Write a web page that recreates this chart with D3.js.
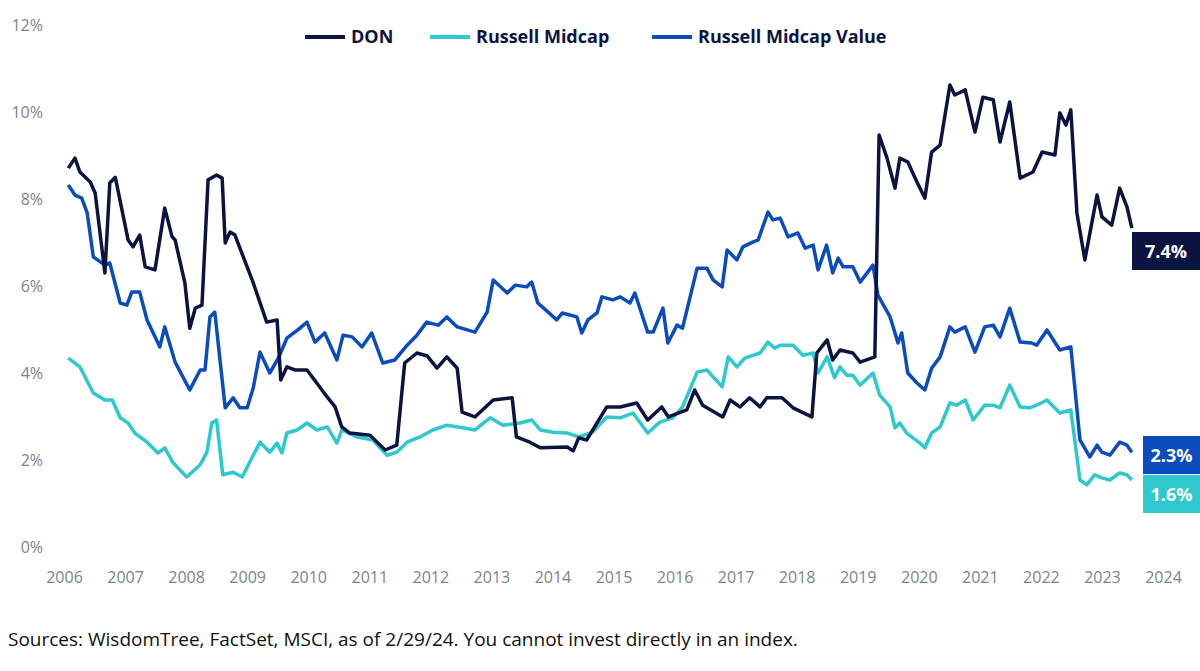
<!DOCTYPE html>
<html><head><meta charset="utf-8">
<script src="https://cdn.jsdelivr.net/npm/d3@7"></script>
<style>body{margin:0;background:#fff}svg{display:block}text{font-family:"Open Sans",sans-serif}</style>
</head><body><div id="chart"></div>
<script>
const years = [2006,2007,2008,2009,2010,2011,2012,2013,2014,2015,2016,2017,2018,2019,2020,2021,2022,2023,2024];
const yTicks = [0,2,4,6,8,10,12];
const seriesNames = ["DON","Russell Midcap","Russell Midcap Value"];
const seriesColors = ["#0b1440","#2ec8cf","#0a4cbd"];
const endLabels = ["7.4%","1.6%","2.3%"];

const don = [[2006.07,8.71],[2006.18,8.94],[2006.26,8.62],[2006.43,8.39],[2006.51,8.14],[2006.67,6.3],[2006.75,8.37],[2006.84,8.5],[2007.05,7.06],[2007.13,6.9],[2007.24,7.17],[2007.33,6.44],[2007.49,6.37],[2007.65,7.79],[2007.77,7.13],[2007.82,7.06],[2007.98,6.07],[2008.06,5.03],[2008.15,5.49],[2008.26,5.56],[2008.36,8.44],[2008.5,8.55],[2008.59,8.48],[2008.64,6.99],[2008.72,7.24],[2008.8,7.17],[2009.1,6.07],[2009.32,5.17],[2009.49,5.22],[2009.55,3.84],[2009.65,4.14],[2009.78,4.07],[2009.98,4.07],[2010.14,3.77],[2010.31,3.45],[2010.44,3.22],[2010.55,2.76],[2010.68,2.62],[2011.01,2.57],[2011.26,2.23],[2011.45,2.34],[2011.58,4.23],[2011.78,4.46],[2011.95,4.39],[2012.11,4.11],[2012.27,4.37],[2012.44,4.11],[2012.52,3.1],[2012.73,2.99],[2013.03,3.38],[2013.34,3.43],[2013.41,2.53],[2013.63,2.41],[2013.8,2.28],[2014.24,2.3],[2014.34,2.21],[2014.43,2.51],[2014.56,2.46],[2014.89,3.22],[2015.11,3.22],[2015.38,3.31],[2015.56,2.92],[2015.79,3.22],[2015.9,2.99],[2016.2,3.15],[2016.33,3.61],[2016.46,3.26],[2016.79,2.99],[2016.91,3.38],[2017.07,3.22],[2017.23,3.43],[2017.4,3.22],[2017.51,3.43],[2017.76,3.43],[2017.94,3.2],[2018.25,2.99],[2018.33,4.46],[2018.5,4.76],[2018.59,4.3],[2018.71,4.53],[2018.92,4.46],[2019.04,4.25],[2019.28,4.37],[2019.35,9.47],[2019.48,8.94],[2019.61,8.25],[2019.69,8.94],[2019.82,8.85],[2019.97,8.39],[2020.1,8.02],[2020.21,9.08],[2020.35,9.24],[2020.51,10.62],[2020.59,10.39],[2020.76,10.51],[2020.92,9.54],[2021.05,10.34],[2021.22,10.28],[2021.33,9.31],[2021.49,10.23],[2021.66,8.48],[2021.87,8.62],[2022.02,9.08],[2022.23,9.01],[2022.31,9.98],[2022.41,9.7],[2022.49,10.05],[2022.59,7.68],[2022.72,6.6],[2022.92,8.09],[2023.0,7.59],[2023.16,7.4],[2023.29,8.25],[2023.41,7.82],[2023.49,7.33]];

const midcap = [[2006.07,4.34],[2006.26,4.14],[2006.48,3.54],[2006.67,3.38],[2006.79,3.38],[2006.92,2.97],[2007.05,2.85],[2007.16,2.62],[2007.36,2.41],[2007.54,2.16],[2007.65,2.28],[2007.79,1.93],[2008.01,1.61],[2008.23,1.89],[2008.34,2.18],[2008.42,2.85],[2008.5,2.92],[2008.6,1.66],[2008.77,1.72],[2008.92,1.61],[2009.02,1.89],[2009.21,2.41],[2009.37,2.18],[2009.49,2.39],[2009.57,2.16],[2009.65,2.62],[2009.82,2.69],[2009.98,2.85],[2010.14,2.69],[2010.31,2.76],[2010.47,2.39],[2010.55,2.69],[2010.8,2.53],[2011.06,2.46],[2011.29,2.11],[2011.45,2.18],[2011.62,2.41],[2011.83,2.53],[2012.04,2.69],[2012.27,2.8],[2012.53,2.74],[2012.73,2.69],[2012.98,2.97],[2013.19,2.8],[2013.47,2.85],[2013.66,2.92],[2013.8,2.69],[2014.01,2.64],[2014.24,2.62],[2014.43,2.53],[2014.66,2.64],[2014.89,2.99],[2015.11,2.97],[2015.32,3.08],[2015.56,2.62],[2015.76,2.87],[2015.97,2.97],[2016.13,3.22],[2016.37,4.02],[2016.53,4.07],[2016.78,3.68],[2016.88,4.37],[2017.02,4.14],[2017.15,4.34],[2017.4,4.46],[2017.53,4.71],[2017.64,4.57],[2017.73,4.64],[2017.94,4.64],[2018.1,4.41],[2018.27,4.46],[2018.35,4.0],[2018.5,4.37],[2018.62,3.89],[2018.71,4.14],[2018.82,3.95],[2018.92,3.95],[2019.04,3.72],[2019.25,4.0],[2019.36,3.49],[2019.53,3.22],[2019.61,2.74],[2019.69,2.85],[2019.8,2.62],[2020.02,2.39],[2020.1,2.28],[2020.21,2.62],[2020.35,2.76],[2020.51,3.31],[2020.62,3.26],[2020.76,3.38],[2020.89,2.92],[2021.08,3.26],[2021.22,3.26],[2021.33,3.2],[2021.49,3.72],[2021.66,3.22],[2021.82,3.2],[2021.93,3.26],[2022.1,3.38],[2022.31,3.08],[2022.49,3.15],[2022.64,1.54],[2022.75,1.43],[2022.88,1.66],[2023.0,1.59],[2023.13,1.54],[2023.29,1.7],[2023.41,1.66],[2023.49,1.54]];

const midcapValue = [[2006.07,8.32],[2006.18,8.09],[2006.29,8.02],[2006.38,7.68],[2006.48,6.67],[2006.67,6.48],[2006.75,6.53],[2006.92,5.61],[2007.03,5.56],[2007.11,5.86],[2007.24,5.86],[2007.36,5.22],[2007.57,4.6],[2007.65,5.06],[2007.82,4.25],[2008.06,3.61],[2008.23,4.07],[2008.31,4.07],[2008.39,5.29],[2008.47,5.4],[2008.64,3.2],[2008.77,3.43],[2008.88,3.2],[2009.0,3.2],[2009.1,3.66],[2009.21,4.48],[2009.37,4.0],[2009.51,4.34],[2009.65,4.8],[2009.83,4.99],[2009.98,5.17],[2010.11,4.71],[2010.27,4.92],[2010.47,4.3],[2010.57,4.87],[2010.72,4.83],[2010.88,4.6],[2011.04,4.92],[2011.22,4.23],[2011.42,4.3],[2011.62,4.64],[2011.78,4.87],[2011.94,5.17],[2012.13,5.1],[2012.27,5.29],[2012.44,5.06],[2012.73,4.94],[2012.93,5.4],[2013.03,6.14],[2013.26,5.84],[2013.39,6.02],[2013.58,5.98],[2013.66,6.09],[2013.76,5.61],[2013.93,5.4],[2014.07,5.22],[2014.16,5.38],[2014.4,5.29],[2014.48,4.92],[2014.58,5.22],[2014.73,5.38],[2014.81,5.75],[2014.99,5.68],[2015.11,5.75],[2015.27,5.61],[2015.35,5.84],[2015.56,4.94],[2015.65,4.94],[2015.81,5.49],[2015.89,4.69],[2016.04,5.1],[2016.13,5.03],[2016.37,6.41],[2016.53,6.41],[2016.63,6.14],[2016.78,5.98],[2016.86,6.83],[2017.02,6.6],[2017.12,6.9],[2017.28,7.01],[2017.37,7.06],[2017.53,7.7],[2017.61,7.52],[2017.73,7.56],[2017.86,7.13],[2018.02,7.22],[2018.14,6.87],[2018.27,6.94],[2018.35,6.37],[2018.49,6.94],[2018.59,6.3],[2018.68,6.64],[2018.76,6.44],[2018.92,6.44],[2019.04,6.09],[2019.25,6.48],[2019.33,5.79],[2019.53,5.29],[2019.66,4.69],[2019.72,4.92],[2019.82,4.0],[2019.97,3.77],[2020.1,3.61],[2020.21,4.11],[2020.35,4.37],[2020.51,5.06],[2020.59,4.94],[2020.76,5.06],[2020.92,4.48],[2021.08,5.06],[2021.22,5.1],[2021.33,4.83],[2021.49,5.49],[2021.66,4.71],[2021.85,4.69],[2021.93,4.64],[2022.1,4.99],[2022.31,4.53],[2022.49,4.6],[2022.64,2.46],[2022.8,2.07],[2022.92,2.34],[2023.0,2.18],[2023.13,2.11],[2023.29,2.41],[2023.41,2.34],[2023.49,2.18]];

const W = 1200, H = 671;
const svg = d3.select("#chart").append("svg").attr("width", W).attr("height", H);
const x = d3.scaleLinear().domain([2006, 2024]).range([64, 1163]);
const y = d3.scaleLinear().domain([0, 12]).range([547, 25]);

// axes (labels only)
const yAxis = svg.append("g").attr("transform", "translate(43,0)")
  .call(d3.axisLeft(y).tickValues(yTicks).tickSize(0).tickPadding(0).tickFormat(d => d + "%"));
const xAxis = svg.append("g").attr("transform", "translate(0,572)")
  .call(d3.axisBottom(x).tickValues(years).tickSize(0).tickPadding(0).tickFormat(d3.format("d")));
[yAxis, xAxis].forEach(g => {
  g.select(".domain").remove();
  g.selectAll("text").attr("fill", "#7a8490").style("font-size", "16px").style("font-family", "'Open Sans', sans-serif");
});

const line = d3.line().x(d => x(d[0])).y(d => y(d[1]));
const data = [midcap, midcapValue, don];
const colorsByData = [seriesColors[1], seriesColors[2], seriesColors[0]];
data.forEach((s, i) => {
  svg.append("path").datum(s).attr("d", line).attr("fill", "none")
    .attr("stroke", colorsByData[i]).attr("stroke-width", 3.5).attr("stroke-linejoin", "round");
});

// legend
const legX = [305, 430, 652];
seriesNames.forEach((n, i) => {
  svg.append("line").attr("x1", legX[i]).attr("x2", legX[i] + 40).attr("y1", 37).attr("y2", 37)
    .attr("stroke", seriesColors[i]).attr("stroke-width", 4);
  svg.append("text").attr("x", legX[i] + 46).attr("y", 43).text(n)
    .attr("fill", "#0b1440").style("font-size", "18px").style("font-weight", "bold");
});

// end labels
const endSeries = [don, midcap, midcapValue];
const boxY = [232, 475, 436];
endSeries.forEach((s, i) => {
  const bx = i === 0 ? 1132 : 1143;
  svg.append("rect").attr("x", bx).attr("y", boxY[i]).attr("width", 1200 - bx).attr("height", 38)
    .attr("fill", seriesColors[i]);
  svg.append("text").attr("x", (bx + 1200) / 2).attr("y", boxY[i] + 26).attr("text-anchor", "middle")
    .text(endLabels[i]).attr("fill", "#fff").style("font-size", "18px").style("font-weight", "bold");
});

svg.append("text").attr("x", 8).attr("y", 646)
  .text("Sources: WisdomTree, FactSet, MSCI, as of 2/29/24. You cannot invest directly in an index.")
  .attr("fill", "#111").style("font-size", "19px");
</script></body></html>
